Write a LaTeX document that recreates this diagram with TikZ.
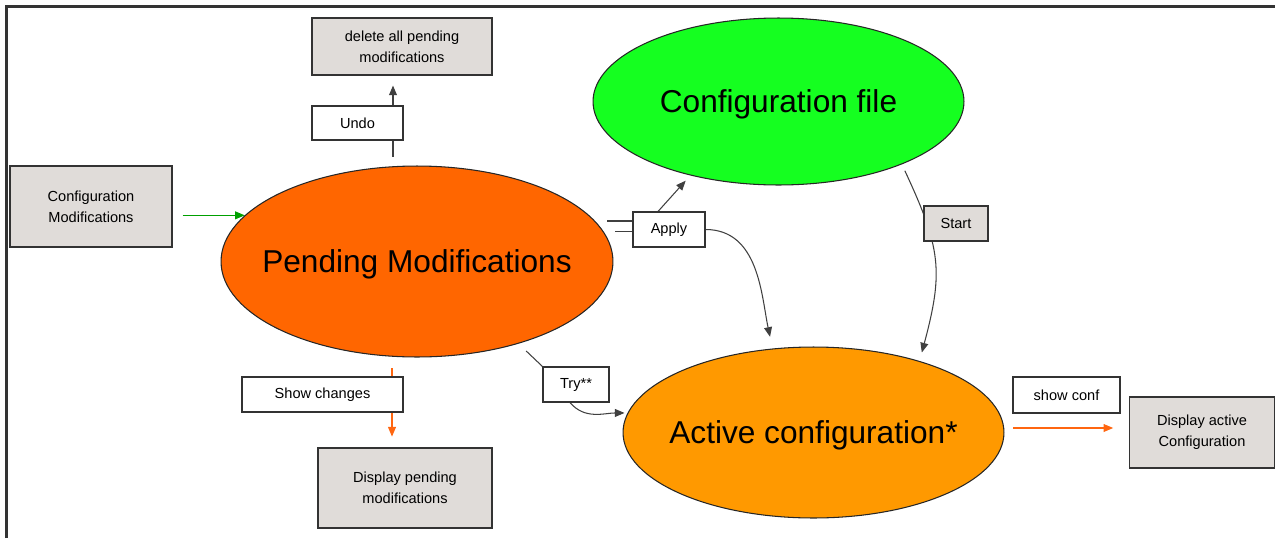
\documentclass[tikz,border=0pt]{standalone}
\usepackage{fontspec}
\setmainfont{Liberation Sans}
\usetikzlibrary{shapes.geometric,arrows.meta,calc}
\definecolor{boxgray}{HTML}{E0DCD9}
\definecolor{pendcol}{HTML}{FF6600}
\definecolor{filecol}{HTML}{15FF20}
\definecolor{actcol}{HTML}{FF9900}
\definecolor{garrow}{HTML}{00A000}
\definecolor{oarrow}{HTML}{FF6610}
\pgfdeclarelayer{bg}
\pgfsetlayers{bg,main}
\tikzset{
  box/.style={draw=black!80, fill=boxgray, font=\fontsize{8.3}{12}\selectfont, align=center, inner sep=0pt, line width=0.6pt},
  lbl/.style={draw=black!80, fill=white, font=\fontsize{8.3}{12}\selectfont, align=center, inner sep=0pt, line width=0.6pt},
  ell/.style={ellipse, draw=black!85, inner xsep=-1.5cm, inner ysep=0pt, text height=16pt, text depth=3pt, font=\fontsize{18}{22}\selectfont, line width=0.6pt},
  ln/.style={draw=black!75, line width=0.6pt},
  arr/.style={ln, -{Triangle[length=5.5pt,width=4.5pt]}},
  garr/.style={draw=garrow, line width=0.6pt, -{Triangle[length=5.5pt,width=4.5pt]}},
  oarr/.style={draw=oarrow, line width=0.6pt, -{Triangle[length=5.5pt,width=4.5pt]}}
}
\begin{document}
\begin{tikzpicture}[x=0.02cm,y=-0.02cm]
\useasboundingbox (0,0) rectangle (1275,538);
\draw[line width=1.3pt, black!80] (6.5,538) -- (6.5,6.5) -- (1275,6.5);

\node[box, minimum width=3.24cm, minimum height=1.62cm] (cmod) at (91,206.5) {Configuration\\Modifications};
\node[box, minimum width=3.6cm, minimum height=1.14cm] (del) at (402,46.5) {delete all pending\\modifications};
\node[lbl, minimum width=1.82cm, minimum height=0.68cm] (undo) at (357.5,123) {Undo};
\node[ell, fill=pendcol, minimum width=7.84cm, minimum height=3.82cm] (pend) at (417,261.5) {Pending Modifications};
\node[ell, fill=filecol, minimum width=7.42cm, minimum height=3.34cm] (cfile) at (778.5,101.5) {Configuration file};
\node[lbl, minimum width=1.44cm, minimum height=0.70cm] (apply) at (669,229.5) {Apply};
\node[box, minimum width=1.28cm, minimum height=0.70cm] (start) at (956,223.5) {Start};
\node[ell, fill=actcol, minimum width=7.62cm, minimum height=3.42cm] (active) at (813.5,432.5) {Active configuration*};
\node[lbl, minimum width=1.32cm, minimum height=0.70cm] (try) at (576,384.5) {Try**};
\node[lbl, minimum width=3.22cm, minimum height=0.70cm] (showch) at (322.5,394.5) {Show changes};
\node[box, minimum width=3.48cm, minimum height=1.60cm] (dpend) at (405,488) {Display pending\\modifications};
\node[lbl, minimum width=2.14cm, minimum height=0.72cm] (showconf) at (1066.5,395) {show conf};
\node[box, minimum width=2.9cm, minimum height=1.42cm] (dact) at (1202,432.5) {Display active\\Configuration};

\coordinate (u) at (393,0);
\coordinate (v) at (392,0);
\coordinate (p1) at (607,221);
\coordinate (p2) at (615,231.5);

\begin{pgfonlayer}{bg}
\draw[arr, shorten <=5pt, shorten >=5.7pt] (pend.north -| u) -- (del.south -| u);
\draw[garr, shorten <=5.7pt] (cmod.east |- pend.165) -- (pend.165);
\draw[oarr, shorten <=6.2pt, shorten >=6.2pt] (pend.south -| v) -- (dpend.north -| v);
\draw[ln] (p1) -- (p1 -| apply.west);
\draw[ln] (p2) -- (p2 -| apply.west);
\draw[arr, shorten >=4pt] ($(apply.north)+(-11,0)$) -- (cfile.220);
\draw[arr, shorten >=6.8pt] (apply.east) to[out=0,in=102] (active.116);
\draw[arr, shorten <=4pt, shorten >=5pt] (cfile.333) to[out=-65,in=75,looseness=1.2] (active.34);
\draw[ln, shorten <=6pt] (pend.321) -- (try.north west);
\draw[arr, shorten >=1.7pt] ($(try.south)+(-6,0)$) to[out=-50,in=180] (active.174);
\draw[oarr, shorten <=5pt, shorten >=9pt] ($(active.east)+(0,-4.5)$) -- ($(dact.west)+(0,-4.5)$);
\end{pgfonlayer}
\end{tikzpicture}
\end{document}
